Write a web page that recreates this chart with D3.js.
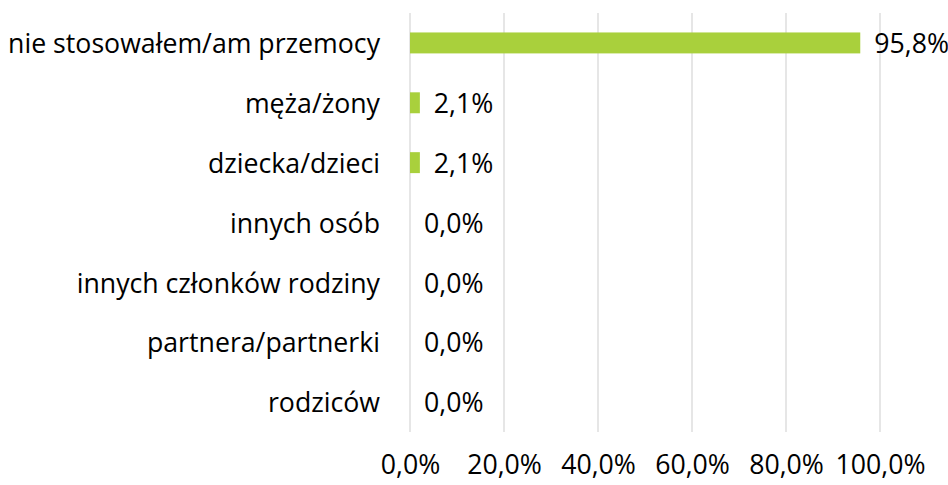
<!DOCTYPE html>
<html>
<head>
<meta charset="utf-8">
<script src="https://cdn.jsdelivr.net/npm/d3@7"></script>
<style>
  html, body { margin: 0; padding: 0; background: #fff; }
  text { font-family: "Open Sans", "Noto Sans", sans-serif; fill: #000; }
</style>
</head>
<body>
<svg id="chart" width="948" height="485"></svg>
<script>
const categories = [
  "nie stosowałem/am przemocy",
  "męża/żony",
  "dziecka/dzieci",
  "innych osób",
  "innych członków rodziny",
  "partnera/partnerki",
  "rodziców"
];
const values = [95.8, 2.1, 2.1, 0.0, 0.0, 0.0, 0.0];
const tickValues = [0, 20, 40, 60, 80, 100];

const fmt = v => v.toFixed(1).replace(".", ",") + "%";
const FS = 26.7;
const FF = '"Open Sans", "Noto Sans", sans-serif';

const svg = d3.select("#chart");
const margin = { left: 410, right: 68, top: 13, bottom: 53 };
const W = 948, H = 485;

const x = d3.scaleLinear().domain([0, 100]).range([margin.left, W - margin.right]);
const y = d3.scaleBand().domain(categories).range([margin.top, H - margin.bottom]).paddingInner(0.65).paddingOuter(0.325);

// gridlines
svg.append("g").selectAll("line").data(tickValues).join("line")
  .attr("x1", d => x(d)).attr("x2", d => x(d))
  .attr("y1", margin.top).attr("y2", H - margin.bottom)
  .attr("stroke", "#d9d9d9").attr("stroke-width", 1.3);

// bars
svg.append("g").selectAll("rect").data(values).join("rect")
  .attr("x", x(0))
  .attr("y", (d, i) => y(categories[i]))
  .attr("width", d => x(d) - x(0))
  .attr("height", y.bandwidth())
  .attr("fill", "#a9d03c");

// value labels
svg.append("g").selectAll("text").data(values).join("text")
  .attr("x", d => x(d) + 14)
  .attr("y", (d, i) => y(categories[i]) + y.bandwidth() / 2)
  .attr("dy", "0.38em")
  .attr("font-size", FS)
  .text(d => fmt(d));

// category axis
const yAxis = svg.append("g")
  .attr("transform", `translate(${x(0) - 30},0)`)
  .call(d3.axisLeft(y).tickSize(0).tickPadding(0));
yAxis.select(".domain").remove();
yAxis.selectAll("text").attr("font-size", FS).attr("fill", "#000").style("font-family", FF)
  .attr("dy", "0.38em");

// x axis labels
const xAxis = svg.append("g")
  .attr("transform", `translate(0,${H - margin.bottom})`)
  .call(d3.axisBottom(x).tickValues(tickValues).tickSize(0).tickPadding(0).tickFormat(d => fmt(d)));
xAxis.select(".domain").remove();
xAxis.selectAll("text").attr("font-size", FS).attr("fill", "#000").style("font-family", FF)
  .attr("y", 42).attr("dy", null);
</script>
</body>
</html>
